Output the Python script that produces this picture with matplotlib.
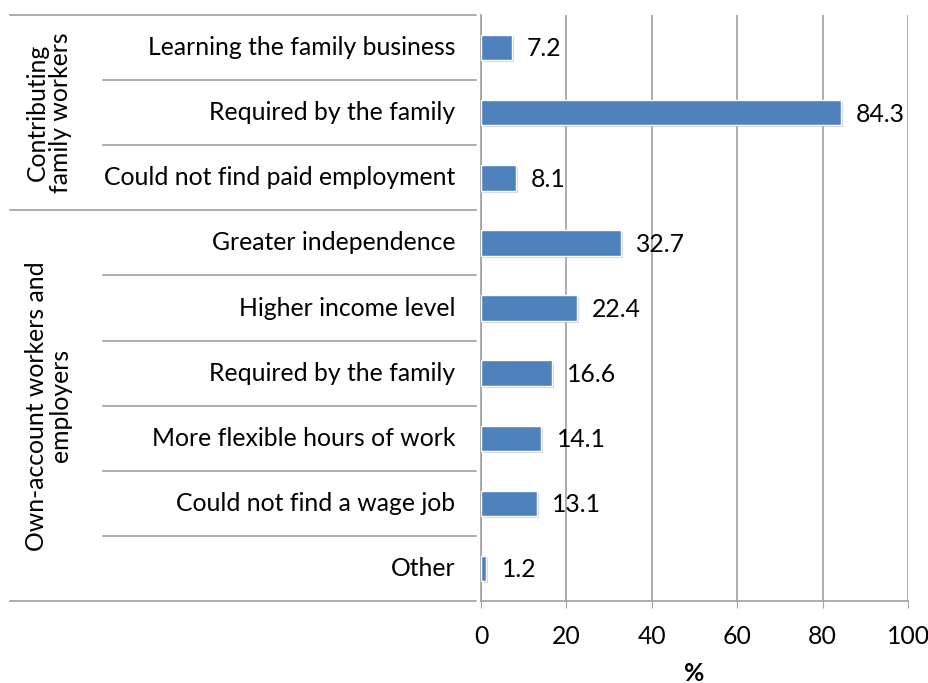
import matplotlib
matplotlib.use("Agg")
import matplotlib.pyplot as plt
import matplotlib.patheffects as pe
from matplotlib.transforms import blended_transform_factory

plt.rcParams['font.family'] = ['Lato', 'DejaVu Sans']

# reasons, top to bottom
reasons = [
    "Learning the family business",
    "Required by the family",
    "Could not find paid employment",
    "Greater independence",
    "Higher income level",
    "Required by the family",
    "More flexible hours of work",
    "Could not find a wage job",
    "Other",
]
shares = [7.2, 84.3, 8.1, 32.7, 22.4, 16.6, 14.1, 13.1, 1.2]

groups = ["Contributing\nfamily workers", "Own-account workers and\nemployers"]
group_sizes = [3, 6]

bar_color = "#4F81BD"
grid_color = "#A0A0A0"
fs = 17.8

fig = plt.figure(figsize=(9.29, 6.83), dpi=100)
ax = fig.add_axes([0.5178, 0.12, 0.4596, 0.858])

ypos = list(range(len(reasons)))
shadow = [pe.SimplePatchShadow(offset=(1.5, -1.5), shadow_rgbFace="#8a8a8a", alpha=0.4),
          pe.Normal()]
bars = ax.barh(ypos, shares, height=0.39, color=bar_color, edgecolor="white",
               linewidth=1.0, zorder=3)
for b in bars:
    b.set_path_effects(shadow)

for y, v in zip(ypos, shares):
    ax.annotate(f"{v}", (v, y), xytext=(11, -1), textcoords="offset points",
                va="center", ha="left", fontsize=fs, zorder=4)

ax.set_xlim(0, 100)
ax.set_ylim(len(reasons) - 0.5, -0.5)
ax.set_xticks(range(0, 101, 20))
ax.tick_params(axis="x", labelsize=fs, length=5, color=grid_color, pad=12)
ax.set_yticks([])
ax.grid(axis="x", color=grid_color, linewidth=1.2, zorder=0)
ax.set_xlabel("%", fontsize=fs, fontweight="bold", labelpad=10)

for s in ["top", "right"]:
    ax.spines[s].set_visible(False)
for s in ["left", "bottom"]:
    ax.spines[s].set_color(grid_color)
    ax.spines[s].set_linewidth(1.2)

# category axis: reason labels, separators and group labels
tr = blended_transform_factory(ax.transAxes, ax.transData)
for y, name in zip(ypos, reasons):
    ax.text(-0.06, y, name, transform=tr, ha="right", va="center", fontsize=fs)

inner_x, outer_x = -0.885, -1.103
bounds = [-0.5]
for n in group_sizes:
    bounds.append(bounds[-1] + n)
for k in range(len(reasons) + 1):
    y = k - 0.5
    x0 = outer_x if y in bounds else inner_x
    ax.plot([x0, -0.012], [y, y], transform=tr, color=grid_color,
            linewidth=1.2, clip_on=False)

for name, lo, hi in zip(groups, bounds[:-1], bounds[1:]):
    ax.text(-1.012, (lo + hi) / 2, name, transform=tr, rotation=90,
            ha="center", va="center", fontsize=fs, linespacing=1.05,
            multialignment="center")

fig.savefig("out.png", dpi=100)
